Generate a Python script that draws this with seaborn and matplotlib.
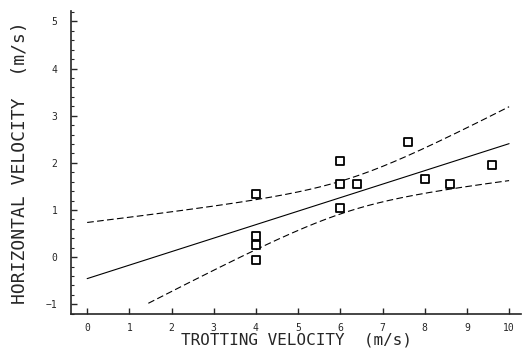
import numpy as np
import pandas as pd
import matplotlib
matplotlib.use('Agg')
import matplotlib.pyplot as plt
import seaborn as sns
from matplotlib.ticker import MultipleLocator

# trotting velocity vs horizontal velocity (m/s)
trot_v = [4.0, 4.0, 4.0, 4.0, 6.0, 6.0, 6.0, 6.4, 7.6, 8.0, 8.6, 9.6]
horiz_v = [1.33, 0.45, 0.25, -0.05, 2.05, 1.55, 1.05, 1.55, 2.45, 1.65, 1.55, 1.95]

x_ticks = list(range(0, 11))
y_ticks = list(range(-1, 6))

sns.set_style('ticks')
plt.rcParams['font.family'] = ['DejaVu Sans Mono']

df = pd.DataFrame({'trot': trot_v, 'horiz': horiz_v})

# least squares fit + 95% confidence band of the mean
x = df['trot'].values
y = df['horiz'].values
n = len(x)
slope, icpt = np.polyfit(x, y, 1)
resid = y - (slope * x + icpt)
s = np.sqrt(np.sum(resid ** 2) / (n - 2))
sxx = np.sum((x - x.mean()) ** 2)
t_val = 2.228  # t(0.975, df=10)

xs = np.linspace(0, 10, 201)
fit = slope * xs + icpt
half = t_val * s * np.sqrt(1.0 / n + (xs - x.mean()) ** 2 / sxx)
upper = fit + half
lower = fit - half
lower_mask = lower >= -1.0

fig = plt.figure(figsize=(5.23, 3.55), dpi=100)
ax = fig.add_axes([0.136, 0.115, 0.86, 0.855])

ax.plot(xs, fit, color='black', lw=0.8)
ax.plot(xs, upper, color='black', lw=0.8, linestyle=(0, (6, 3)))
ax.plot(xs[lower_mask], lower[lower_mask], color='black', lw=0.8, linestyle=(0, (6, 3)))

sns.scatterplot(data=df, x='trot', y='horiz', marker='s', s=38,
                facecolor='white', edgecolor='black', linewidth=1.3, ax=ax, zorder=3)

ax.set_xlim(-0.38, 10.28)
ax.set_ylim(-1.21, 5.23)
ax.set_xticks(x_ticks)
ax.set_yticks(y_ticks)
ax.yaxis.set_minor_locator(MultipleLocator(0.2))
ax.tick_params(axis='both', which='major', direction='in', length=4, width=1, labelsize=7)
ax.tick_params(axis='both', which='minor', direction='in', length=2, width=0.8)
ax.tick_params(axis='x', pad=6)
ax.tick_params(axis='y', pad=10)

ax.set_xlabel('TROTTING VELOCITY  (m/s)', fontsize=11.5, labelpad=0)
ax.set_ylabel('HORIZONTAL VELOCITY  (m/s)', fontsize=13, labelpad=12)

for side in ['top', 'right']:
    ax.spines[side].set_visible(False)
ax.spines['left'].set_linewidth(1.2)
ax.spines['bottom'].set_linewidth(1.2)

fig.savefig('out.png', dpi=100)
